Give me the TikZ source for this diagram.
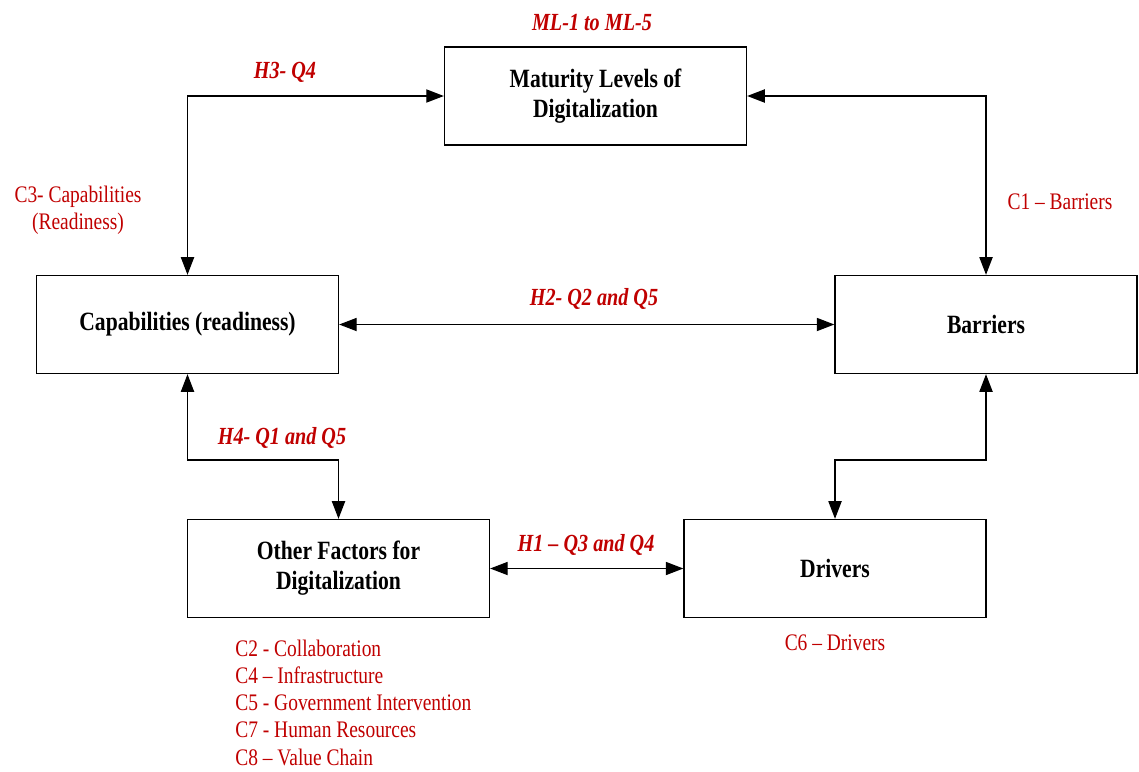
\documentclass[tikz,border=0pt]{standalone}
\usepackage{fontspec}
\setmainfont{Liberation Serif}[FakeStretch=0.82]
\usepackage{tikz}
\usetikzlibrary{arrows.meta, positioning}
\definecolor{diagred}{HTML}{C00000}
\tikzset{
  block/.style={
    rectangle, draw, line width=0.8pt,
    minimum width=6.04cm, minimum height=1.96cm,
    font=\fontsize{15}{17}\selectfont\bfseries, align=center
  },
  link/.style={{Triangle[length=10pt, width=7.5pt]}-{Triangle[length=10pt, width=7.5pt]}, line width=0.7pt},
  hyp/.style={text=diagred, font=\fontsize{14}{16}\selectfont\bfseries\itshape},
  cat/.style={text=diagred, font=\fontsize{13.5}{15.4}\selectfont},
}

\begin{document}
\begin{tikzpicture}[x=0.02cm, y=-0.02cm]
\useasboundingbox (0,0) rectangle (1139,771);

% Boxes
\node[block] (maturity) at (595.5,96) {Maturity Levels of\\Digitalization};
\node[block] (capab) at (187.5,324.5) {Capabilities (readiness)};
\node[block] (barriers) at (986,324.5) {Barriers};
\node[block] (other) at (338.5,568.5) {Other Factors for\\Digitalization};
\node[block] (drivers) at (835,568.5) {Drivers};

% Links
\draw[link] (capab.north) |- (maturity.west);
\draw[link] (maturity.east) -| (barriers.north);
\draw[link] (capab.east) -- (barriers.west);
\draw[link] (capab.south) |- (338.5,460) -- (other.north);
\draw[link] (barriers.south) |- (835,460) -- (drivers.north);
\draw[link] (other.east) -- (drivers.west);

% Hypotheses
\node[hyp] (mllab) at (592,22) {ML-1 to ML-5};
\node[hyp] (h3lab) at (285,72) {H3- Q4};
\node[hyp] (h2lab) at (594,299) {H2- Q2 and Q5};
\node[hyp] (h4lab) at (282,438) {H4- Q1 and Q5};
\node[hyp] (h1lab) at (586,545) {H1 – Q3 and Q4};

% Categories
\node[cat, align=center] (c3lab) at (78,210) {C3- Capabilities\\(Readiness)};
\node[cat] (c1lab) at (1060,202) {C1 – Barriers};
\node[cat] (c6lab) at (835,643) {C6 – Drivers};
\node[cat, align=left, anchor=north west, inner sep=0pt] (clist) at (235,640) {C2 - Collaboration\\
C4 – Infrastructure\\
C5 - Government Intervention\\
C7 - Human Resources\\
C8 – Value Chain};

\end{tikzpicture}
\end{document}
